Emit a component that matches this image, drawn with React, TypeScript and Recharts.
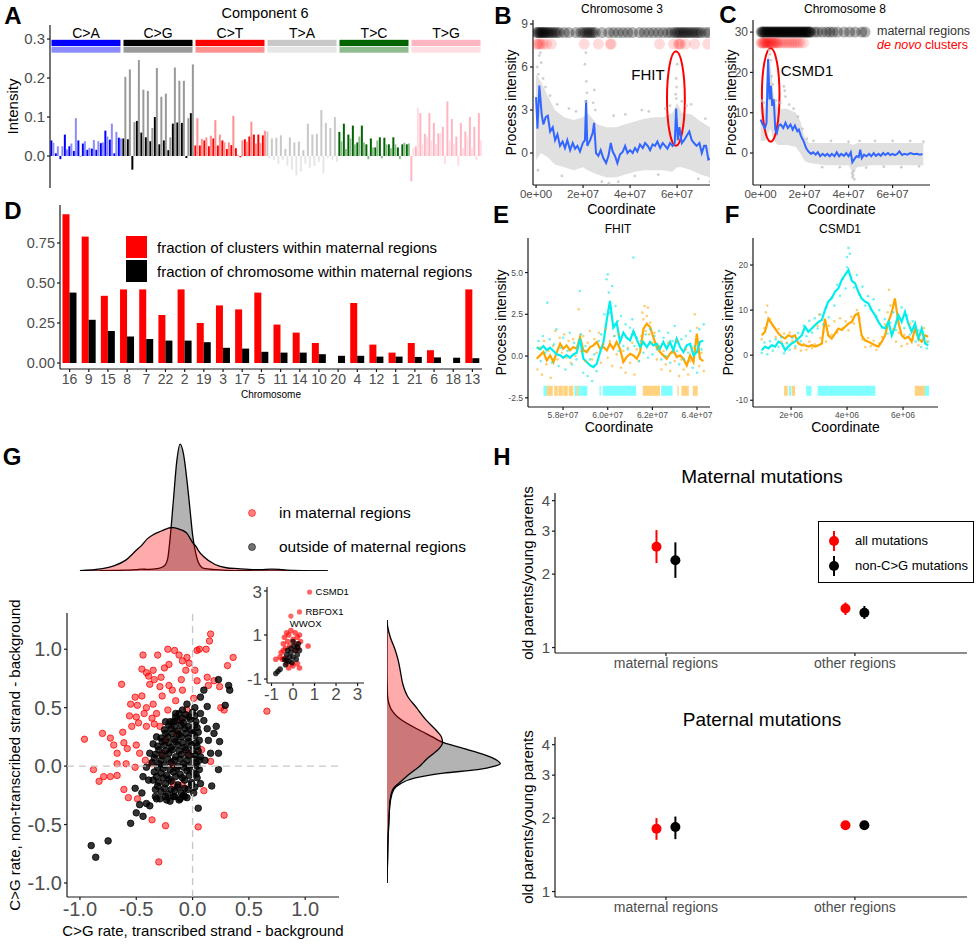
import React from 'react';
import {
  BarChart, Bar, XAxis, YAxis, Cell, ReferenceArea, ComposedChart, Scatter,
  Line, Area, ReferenceLine, ScatterChart, ErrorBar, Legend, Label,
} from 'recharts';

const FONT = '"Liberation Sans", Arial, Helvetica, sans-serif';
const TICK_GREY = '#4d4d4d';
const AXIS = { stroke: '#1a1a1a', strokeWidth: 1.2 };

// ---------- A: component 6 spectrum (two strands per context) ----------
const SUBS = ['C>A', 'C>G', 'C>T', 'T>A', 'T>C', 'T>G'];
const BASES = ['A', 'C', 'G', 'T'];
const DARK_COL = ['#0000ff', '#000000', '#ff0000', '#c8c8c8', '#006400', '#ffb6c1'];
const LIGHT_COL = ['#8c8cff', '#999999', '#ff9090', '#e6e6e6', '#8fbc8f', '#ffdde3'];

const CA_DARK = [0.040, 0.007, -0.008, 0.055, 0.025, 0.013, 0.040, 0.032, 0.016, 0.019, 0.016, 0.033, 0.065, 0.042, 0.007, 0.047];
const CA_LIGHT = [0.034, 0.025, 0.025, 0.017, 0.032, 0.097, -0.002, 0.038, 0.021, 0.041, 0.038, 0.035, 0.050, 0.083, 0.062, 0.045];
const CG_DARK = [0.045, 0.043, -0.035, 0.090, 0.060, 0.048, 0.038, 0.100, 0.030, 0.040, 0.015, 0.083, 0.086, 0.085, -0.005, 0.110];
const CG_LIGHT = [0.203, 0.222, 0.087, 0.246, 0.170, 0.167, 0.072, 0.226, 0.152, 0.160, 0.048, 0.227, 0.193, 0.193, 0.097, 0.235];
const CT_DARK = [0.027, 0.027, 0.040, 0.025, 0.045, 0.027, 0.040, 0.018, 0.028, 0.020, -0.003, 0.043, 0.050, 0.055, 0.055, 0.053];
const CT_LIGHT = [0.097, 0.044, 0.048, 0.052, 0.092, 0.055, 0.035, 0.035, 0.103, 0.003, 0.040, 0.037, 0.088, 0.032, 0.033, 0.065];
const TA_DARK = [0.063, 0.045, 0.047, 0.053, 0.018, 0.048, 0.035, 0.037, 0.015, 0.083, 0.055, 0.057, 0.118, 0.085, 0.072, 0.100];
const TA_LIGHT = [-0.005, -0.010, -0.020, -0.010, -0.025, -0.035, -0.050, -0.040, -0.020, -0.030, -0.025, -0.015, -0.045, -0.005, -0.010, -0.015];
const TC_DARK = [0.062, 0.083, 0.055, 0.078, 0.035, 0.078, 0.030, 0.045, 0.022, 0.048, 0.047, 0.030, 0.048, 0.022, 0.030, 0.030];
const TC_LIGHT = [0.038, 0.018, 0.045, 0.030, 0.050, 0.035, -0.008, 0.022, 0.040, -0.006, 0.030, 0.020, 0.030, -0.008, 0.034, 0.032];
const TG_DARK = [-0.065, 0.025, 0.110, 0.057, 0.110, 0.085, 0.058, 0.075, 0.140, 0.095, 0.050, 0.085, 0.063, 0.100, 0.075, 0.110];
const TG_LIGHT = [0.020, 0.123, 0.030, 0.050, 0.040, 0.030, 0.060, -0.020, 0.040, 0.030, -0.025, 0.020, 0.050, 0.020, -0.010, 0.040];
const A_DARK = [CA_DARK, CG_DARK, CT_DARK, TA_DARK, TC_DARK, TG_DARK];
const A_LIGHT = [CA_LIGHT, CG_LIGHT, CT_LIGHT, TA_LIGHT, TC_LIGHT, TG_LIGHT];

const aData = SUBS.flatMap((s, g) =>
  BASES.flatMap((b5, i) =>
    BASES.map((b3, j) => ({
      ctx: `${b5}[${s}]${b3}`,
      g,
      dark: A_DARK[g][i * 4 + j],
      light: A_LIGHT[g][i * 4 + j],
    })),
  ),
);

// ---------- B: chromosome 3 ----------
const B_LINE_MB = [0, 0.6, 1.4, 2.4, 3.1, 4.1, 5.0, 6.0, 7.1, 8.1, 9.1, 10.2, 11.3, 12.3, 13.3, 14.5, 15.6, 16.6, 17.6, 18.7, 19.9, 20.8, 21.3, 21.8, 23.0, 24.1, 24.7, 25.5, 26.5, 27.5, 28.6, 29.8, 30.8, 31.8, 32.6, 33.6, 34.6, 35.7, 36.9, 37.9, 38.9, 40.0, 41.1, 42.1, 43.1, 44.2, 45.4, 46.4, 47.5, 48.5, 49.6, 50.6, 51.6, 52.8, 53.9, 54.9, 55.9, 57.0, 58.1, 59.0, 59.6, 60.3, 61.0, 62.0, 63.0, 64.1, 65.2, 66.2, 67.2, 68.3, 69.5, 70.5, 71.5, 72.3, 73.3, 74.0];
const B_LINE_VAL = [3.9, 1.7, 4.7, 2.7, 2.0, 2.5, 2.6, 1.5, 1.8, 0.9, 1.3, 0.5, 0.8, 0.35, 0.9, 0.2, 0.7, 0.3, 0.5, 0.1, 0.7, 0.9, 3.7, 0.5, 0.9, 1.4, 2.1, 0.0, -0.2, 0.2, -0.35, -0.7, -0.2, 0.7, 0.1, -0.2, -0.7, -0.1, 0.1, 0.5, 0.0, 0.2, 0.0, 0.35, 0.1, 0.6, 0.35, 0.7, 0.5, 0.2, 0.6, 0.5, 0.8, 0.35, 0.7, 0.5, 0.3, 0.7, 0.5, 0.7, 3.1, 0.9, 1.8, 0.7, 0.9, 1.2, 1.5, 0.9, 0.7, 0.5, 0.7, 0.0, 0.5, 0.5, -0.45, -0.4];
const B_BAND_MB = [0, 2, 5, 8, 12, 16, 20, 22, 26, 30, 34, 38, 42, 46, 50, 54, 58, 60, 62, 66, 70, 74];
const B_BAND_LO = [-0.5, 0.0, -0.3, -0.8, -1.0, -1.2, -1.0, -1.2, -1.5, -1.7, -1.7, -1.5, -1.3, -1.2, -1.2, -1.2, -1.3, -1.0, -1.0, -1.2, -1.5, -1.7];
const B_BAND_HI = [5.5, 5.0, 4.0, 3.0, 2.5, 2.3, 2.5, 2.8, 2.0, 1.8, 1.8, 2.0, 2.2, 2.4, 2.5, 2.5, 2.8, 3.5, 2.8, 2.7, 2.2, 1.8];
const B_GREY_PTS = [[0.5, 6.0], [1.0, 5.5], [1.4, 6.8], [1.8, 7.0], [2.2, 6.3], [0.8, -1.2], [3, 5.2], [4, 4.6], [6, 4.0], [9, 3.4], [11, -1.6], [14, 3.1], [17, 2.9], [20.8, 6.2], [21.2, 7.0], [21.4, 5.0], [21.6, 4.2], [21.0, 3.6], [24.3, 3.5], [24.8, 4.4], [25.2, 3.0], [28, -2.0], [31, -2.1], [33, 2.6], [35, -2.0], [38, 2.7], [42, -1.6], [45, 3.0], [48, 2.9], [52, -1.5], [55, 3.1], [57, 3.3], [59.4, 4.1], [59.6, 5.2], [59.8, 4.6], [60.0, 6.2], [59.7, 3.8], [62, 3.6], [64, 3.3], [66, 3.4], [69, -1.8], [72, 2.4], [74, -2.0]];
const B_MATERNAL_MB = [0.3, 0.8, 1.3, 1.8, 2.3, 2.8, 3.3, 3.8, 4.4, 5.0, 5.7, 6.4, 7.2, 8.0, 8.9, 10.0, 12, 14, 17, 19, 20, 21, 21.8, 22.6, 23.4, 24.2, 25.2, 28, 31, 33, 35, 37, 39, 41, 44, 46, 48, 50, 52, 54, 56, 57.5, 59, 59.8, 60.6, 61.4, 62.2, 63, 63.8, 64.6, 65.5, 66.4, 67.3, 68.2, 69.2, 70.2, 72, 73.5];
const B_MATERNAL_Y = 8.4;
const B_NOVO_MB = [0.2, 0.8, 1.4, 2.0, 3.0, 4.5, 6.5, 20.5, 26.5, 31.5, 32.0, 52.5, 58.5, 60.5, 61.0, 61.5, 63.5, 67.5, 73.0];
const B_NOVO_Y = 7.6;

// ---------- C: chromosome 8 ----------
const C_LINE_MB = [0, 1.0, 2.0, 2.7, 3.4, 4.1, 4.7, 5.3, 6.0, 6.7, 7.4, 8.1, 9.1, 10.3, 11.3, 12.4, 13.6, 14.6, 15.6, 16.7, 17.4, 18.4, 19.6, 20.7, 21.7, 22.9, 23.9, 25.0, 26.0, 27.1, 28.2, 29.3, 30.3, 31.4, 32.4, 33.6, 34.6, 35.7, 36.7, 37.9, 38.9, 40.0, 41.0, 41.7, 42.4, 43.6, 44.6, 45.3, 46.0, 47.0, 48.1, 49.3, 50.3, 51.4, 52.4, 53.6, 54.6, 55.7, 56.7, 57.9, 58.9, 60.0, 61.0, 62.1, 63.1, 64.3, 65.3, 66.7, 68.1, 69.6, 71.0, 72.4, 73.6];
const C_LINE_VAL = [8.3, 7.1, 6.2, 7.5, 23.3, 13.3, 16.7, 11.7, 13.3, 5.8, 5.0, 6.7, 7.1, 6.2, 7.5, 6.2, 7.1, 5.8, 6.8, 5.4, 5.8, 4.2, 2.9, 1.25, 0.4, -0.2, 0.2, -0.4, 0.2, -0.8, -0.2, -0.7, -0.2, -0.8, -0.2, -0.8, 0.2, -0.8, -0.2, -0.7, 0.0, -0.8, 0.2, -2.3, -1.7, -0.8, -1.0, 0.8, -1.25, -0.4, -0.8, -0.2, -0.8, 0.0, -0.7, -0.2, -0.7, 0.0, -0.5, 0.0, -0.5, -0.2, -0.5, -0.2, 0.4, -0.5, -0.2, -0.4, 0.0, -0.3, -0.2, -0.4, -0.25];
const C_BAND_MB = [0, 2, 3.5, 4.5, 6, 8, 12, 16, 18, 20, 22, 30, 40, 42, 44, 50, 60, 74];
const C_BAND_LO = [3, 3, 5, 6, 3, 2, 2, 1.5, 0, -2, -2.5, -3, -3, -5, -3.5, -3, -3, -3];
const C_BAND_HI = [12, 11, 25, 22, 14, 11, 11, 10, 8, 4, 2.5, 2.5, 2.5, 2, 2.5, 2.5, 2.5, 2.5];
const C_GREY_PTS = [[0.5, 13], [1.5, 12.5], [3.5, 26.5], [3.8, 27.5], [4.0, 25.5], [4.3, 24.5], [4.6, 23], [5.0, 19], [5.5, 17], [7, 13], [9, 12.5], [10.6, 16.5], [11.0, 15.5], [11.3, 14], [13, 12], [15, 11], [17, 9], [19, 6], [21, 3.5], [24, 3], [28, -3.5], [32, 3], [36, -3.5], [40, 2.8], [41.6, -5.0], [41.8, -6.0], [42.0, -5.5], [42.3, -4.5], [42.6, -6.5], [45, 3], [48, -3.6], [52, 3], [56, -3.4], [60, 3], [64, -3.5], [68, 3], [72, -3.3], [74, 2.8]];
const C_MATERNAL_MB = [0.3, 0.7, 1.2, 1.6, 2.1, 2.5, 3.0, 3.4, 3.9, 4.3, 4.8, 5.2, 5.7, 6.1, 6.6, 7.0, 7.5, 7.9, 8.4, 8.8, 9.3, 9.7, 10.2, 10.6, 11.1, 11.5, 12.0, 12.4, 12.9, 13.3, 13.8, 14.2, 14.7, 15.1, 15.6, 16.0, 16.5, 16.9, 17.4, 17.8, 18.3, 18.7, 19.2, 19.6, 20.1, 20.5, 21.0, 21.4, 21.9, 22.3, 22.8, 24.5, 26, 28, 30, 31.5, 33, 35, 38, 40.5, 43, 46, 47.5];
const C_MATERNAL_Y = 30.0;
const C_NOVO_MB = [0.2, 0.6, 1.0, 1.4, 1.8, 2.2, 2.6, 3.0, 3.4, 3.8, 4.2, 4.6, 5.0, 5.5, 6.0, 6.5, 7.0, 7.5, 8.0, 9, 10, 11, 12, 13, 14, 15, 16, 17, 18, 19.5];
const C_NOVO_Y = 27.3;

// ---------- D: maternal-region fractions ----------
const D_CHR = ['16', '9', '15', '8', '7', '22', '2', '19', '3', '17', '5', '11', '14', '10', '20', '4', '12', '1', '21', '6', '18', '13'];
const D_CLUSTERS = [0.93, 0.79, 0.42, 0.46, 0.46, 0.30, 0.46, 0.25, 0.36, 0.335, 0.44, 0.24, 0.19, 0.125, 0, 0.375, 0.115, 0.065, 0.125, 0.08, 0, 0.46];
const D_CHROM = [0.44, 0.27, 0.20, 0.165, 0.15, 0.14, 0.14, 0.13, 0.095, 0.09, 0.07, 0.065, 0.065, 0.055, 0.045, 0.045, 0.04, 0.04, 0.038, 0.035, 0.033, 0.03];
const D_KEYS = [
  { key: 'clusters', label: 'fraction of clusters within maternal regions', color: '#ff0000' },
  { key: 'chrom', label: 'fraction of chromosome within maternal regions', color: '#000000' },
];

// ---------- E: FHIT ----------
const E_MB = [56.82, 56.97, 57.12, 57.27, 57.42, 57.57, 57.72, 57.87, 58.01, 58.16, 58.31, 58.46, 58.61, 58.76, 58.91, 59.06, 59.21, 59.36, 59.51, 59.66, 59.81, 59.96, 60.10, 60.25, 60.40, 60.55, 60.70, 60.85, 61.00, 61.15, 61.30, 61.45, 61.60, 61.75, 61.90, 62.04, 62.19, 62.34, 62.49, 62.64, 62.79, 62.94, 63.09, 63.24, 63.39, 63.54, 63.69, 63.84, 63.99, 64.13, 64.28];
const E_CYAN = [0.54, 0.40, 0.60, 0.35, 0.50, 0.30, 0.10, 0.05, -0.10, 0.05, -0.10, 0.10, 0.20, 1.04, -0.16, -0.36, -0.56, -0.66, -0.46, 0.24, 0.84, 2.20, 3.30, 1.70, 2.00, 0.84, 1.40, 1.10, 0.94, 1.50, 1.00, 0.54, 0.84, 0.54, 0.84, 0.64, 0.74, 0.44, 0.84, 0.44, 0.84, 0.34, 1.04, 0.54, 0.24, 0.64, 0.74, 0.04, 0.24, 0.84, 0.94];
const E_ORANGE = [-0.16, 0.04, 0.24, -0.26, 0.04, -0.36, 0.24, 0.74, 0.44, 0.64, 0.34, 0.54, 0.44, 1.14, 0.34, 0.24, 0.54, 0.64, 0.84, 0.44, 0.54, 0.34, 0.74, 0.44, 0.84, 0.44, -0.36, -0.06, 0.14, 0.04, -0.16, 0.24, 1.64, 1.94, 1.74, 1.14, 0.54, 0.24, 0.04, -0.16, 0.14, 0.34, -0.06, 0.04, -0.16, -0.56, 0.04, -0.36, 1.34, -0.16, -0.30];
const E_CYAN_PTS = [[56.9, 0.9], [57.0, -0.3], [57.1, 1.2], [57.2, 0.2], [57.3, 3.2], [57.4, 1.0], [57.5, -0.4], [57.6, 0.7], [57.7, 1.6], [57.8, -0.6], [57.9, 0.5], [58.0, 1.1], [58.1, -0.8], [58.2, 0.3], [58.3, 1.4], [58.4, -0.5], [58.5, 0.8], [58.6, -0.2], [58.75, 3.9], [58.8, 1.3], [58.9, -1.0], [59.0, 0.6], [59.1, -1.2], [59.2, -0.2], [59.3, -1.5], [59.4, 0.1], [59.5, -0.9], [59.6, 0.9], [59.7, 1.3], [59.85, 2.5], [59.95, 4.6], [60.0, 4.9], [60.05, 3.8], [60.1, 2.6], [60.2, 4.2], [60.3, 1.2], [60.35, 3.0], [60.45, 2.1], [60.5, 0.3], [60.6, 2.4], [60.7, 0.6], [60.8, 1.9], [60.9, 0.4], [61.0, 1.7], [61.1, 2.2], [61.15, 5.9], [61.2, 0.6], [61.3, 1.1], [61.4, -0.3], [61.5, 0.9], [61.6, 0.2], [61.7, 1.3], [61.8, -0.1], [61.9, 1.6], [62.0, 0.1], [62.1, 1.2], [62.2, 0.4], [62.3, 1.5], [62.4, -0.2], [62.5, 1.1], [62.6, 0.0], [62.7, 1.4], [62.8, -0.4], [62.9, 0.9], [63.0, 1.8], [63.1, 0.3], [63.2, -0.5], [63.3, 1.0], [63.4, -0.2], [63.5, 1.2], [63.6, 0.2], [63.7, 1.5], [63.8, -0.7], [63.9, 0.6], [64.0, -1.0], [64.1, 1.6], [64.2, 0.4], [64.3, 1.9]];
const E_ORANGE_PTS = [[56.85, -0.8], [56.95, 0.5], [57.05, -1.1], [57.15, 0.9], [57.25, -0.5], [57.35, 0.3], [57.45, -1.3], [57.55, 0.6], [57.65, 1.5], [57.75, -0.2], [57.85, 1.1], [57.95, 0.2], [58.05, 1.3], [58.15, -0.1], [58.25, 0.9], [58.35, -0.4], [58.45, 1.0], [58.55, 0.0], [58.7, 2.8], [58.8, 0.3], [58.9, 1.2], [59.0, -0.3], [59.1, 0.8], [59.2, 1.5], [59.3, -0.2], [59.4, 1.0], [59.5, 0.2], [59.6, 1.4], [59.7, -0.4], [59.8, 0.7], [59.9, 1.6], [60.0, -0.1], [60.1, 0.9], [60.2, -0.6], [60.3, 1.2], [60.4, 0.1], [60.5, 1.3], [60.6, -0.7], [60.7, 0.3], [60.8, -1.0], [60.9, 0.5], [61.0, -0.4], [61.1, 0.8], [61.2, -1.1], [61.3, 0.4], [61.4, -0.3], [61.5, 1.2], [61.55, 2.6], [61.6, 2.2], [61.65, 3.0], [61.7, 1.5], [61.75, 2.4], [61.8, 2.9], [61.85, 1.3], [61.9, 2.0], [62.0, 0.8], [62.1, 1.4], [62.2, -0.2], [62.3, 0.6], [62.4, -0.8], [62.5, 0.3], [62.6, -0.5], [62.7, 0.8], [62.8, -0.9], [62.9, 0.2], [63.0, -0.3], [63.1, 0.9], [63.2, -1.2], [63.3, -0.2], [63.4, -0.8], [63.5, 0.4], [63.6, -1.1], [63.7, -0.3], [63.8, 0.5], [63.9, 2.5], [64.0, 1.7], [64.1, -0.6], [64.2, 0.2], [64.3, -0.9]];
const E_TILE_START = [57.12, 57.27, 57.60, 57.79, 58.01, 58.25, 58.51, 58.61, 58.69, 59.63, 59.78, 61.57, 62.39, 63.12, 63.30, 63.81];
const E_TILE_END = [57.27, 57.54, 57.76, 57.99, 58.21, 58.46, 58.61, 58.69, 59.09, 59.69, 61.27, 62.34, 62.90, 63.18, 63.63, 64.03];
const E_TILE_KIND = ['c', 'o', 'o', 'o', 'o', 'o', 'c', 'o', 'c', 'c', 'c', 'o', 'c', 'o', 'o', 'o'];

// ---------- F: CSMD1 ----------
const F_MB = [0.95, 1.07, 1.19, 1.31, 1.43, 1.55, 1.67, 1.79, 1.90, 2.02, 2.14, 2.26, 2.38, 2.50, 2.62, 2.74, 2.86, 2.98, 3.10, 3.21, 3.33, 3.45, 3.57, 3.69, 3.81, 3.93, 4.05, 4.17, 4.29, 4.40, 4.52, 4.64, 4.76, 4.88, 5.00, 5.12, 5.24, 5.36, 5.48, 5.60, 5.71, 5.83, 5.95, 6.07, 6.19, 6.31, 6.43, 6.55, 6.67, 6.79, 6.90];
const F_CYAN = [1.1, 1.9, 1.5, 2.2, 1.9, 3.0, 2.6, 1.1, 1.9, 2.6, 3.0, 3.7, 4.4, 6.3, 5.2, 5.9, 6.7, 7.4, 7.8, 10.0, 11.9, 12.6, 14.1, 14.8, 16.7, 17.8, 18.9, 16.5, 15.9, 14.1, 12.6, 11.9, 11.5, 10.0, 8.9, 7.4, 6.3, 5.9, 7.4, 4.4, 6.3, 8.9, 7.4, 9.6, 7.0, 5.2, 7.0, 3.7, 5.9, 2.6, 2.2];
const F_ORANGE = [4.4, 5.2, 8.1, 7.0, 5.9, 4.8, 4.1, 3.7, 4.4, 4.1, 4.4, 2.6, 2.2, 2.2, 1.9, 2.2, 1.9, 2.2, 2.6, 8.1, 4.4, 3.7, 4.8, 5.9, 5.6, 6.3, 7.0, 7.4, 8.9, 9.3, 4.4, 3.3, 3.0, 2.6, 2.2, 1.9, 3.0, 4.4, 7.4, 9.6, 12.6, 7.4, 4.4, 3.7, 4.1, 3.0, 5.9, 3.7, 3.0, 4.4, 4.1];
const F_CYAN_PTS = [[0.95, 0.5], [1.05, 2.8], [1.15, 0.2], [1.25, 3.1], [1.35, 1.0], [1.45, 3.5], [1.55, 1.8], [1.65, 4.0], [1.75, 0.4], [1.85, 2.6], [1.95, 1.2], [2.05, 3.8], [2.15, 2.0], [2.25, 4.9], [2.35, 3.1], [2.45, 6.5], [2.55, 4.2], [2.65, 7.6], [2.75, 5.0], [2.85, 8.2], [2.95, 5.9], [3.05, 9.0], [3.15, 6.8], [3.25, 10.5], [3.35, 8.4], [3.45, 12.8], [3.55, 11.0], [3.65, 15.6], [3.75, 13.2], [3.85, 16.9], [3.95, 14.8], [4.0, 21.8], [4.05, 23.8], [4.1, 22.5], [4.0, 19.5], [4.15, 17.2], [4.25, 15.0], [4.35, 17.8], [4.45, 13.4], [4.55, 15.2], [4.65, 11.0], [4.75, 13.1], [4.85, 10.2], [4.95, 12.4], [5.05, 8.6], [5.15, 10.0], [5.25, 6.1], [5.35, 8.0], [5.45, 4.8], [5.55, 7.2], [5.65, 9.5], [5.75, 5.6], [5.85, 8.0], [5.95, 10.6], [6.05, 6.0], [6.15, 8.8], [6.25, 4.6], [6.35, 7.5], [6.45, 3.0], [6.55, 5.5], [6.65, 1.8], [6.75, 3.9], [6.85, 1.5], [6.9, 3.0]];
const F_ORANGE_PTS = [[0.95, 3.5], [1.05, 6.0], [1.1, 9.5], [1.15, 11.0], [1.25, 8.0], [1.35, 6.5], [1.45, 4.0], [1.55, 5.8], [1.65, 3.0], [1.75, 4.8], [1.85, 2.8], [1.95, 5.0], [2.05, 3.2], [2.15, 1.5], [2.25, 2.8], [2.35, 1.0], [2.45, 2.5], [2.55, 1.2], [2.65, 3.0], [2.75, 1.6], [2.85, 2.4], [2.95, 6.5], [3.0, 9.0], [3.05, 3.8], [3.15, 5.2], [3.25, 3.0], [3.35, 6.5], [3.45, 4.5], [3.55, 7.5], [3.65, 5.0], [3.75, 8.2], [3.85, 6.0], [3.95, 7.5], [4.05, 5.5], [4.15, 8.5], [4.25, 7.0], [4.35, 10.0], [4.45, 8.2], [4.55, 3.5], [4.65, 1.8], [4.75, 3.8], [4.85, 2.0], [4.95, 3.2], [5.05, 1.2], [5.15, 2.6], [5.25, 4.0], [5.35, 6.8], [5.45, 9.5], [5.5, 14.5], [5.55, 11.0], [5.65, 5.8], [5.75, 3.0], [5.85, 5.0], [5.95, 2.0], [6.05, 4.5], [6.15, 2.5], [6.25, 7.0], [6.35, 3.5], [6.45, 5.2], [6.55, 2.2], [6.65, 4.6], [6.75, 6.0], [6.85, 3.0]];
const F_TILE_START = [1.75, 1.92, 2.02, 2.54, 2.95, 6.42, 6.78];
const F_TILE_END = [1.88, 2.00, 2.14, 2.73, 5.01, 6.78, 6.93];
const F_TILE_KIND = ['o', 'c', 'o', 'c', 'c', 'o', 'c'];

// ---------- G: strand asymmetry ----------
const G_RED = [[0.16, 1.13], [0.15, 1.07], [-0.22, 1.0], [-0.16, 0.99], [-0.44, 0.95], [-0.31, 0.95], [0.04, 0.99], [0.06, 1.0], [0.12, 1.0], [0.36, 0.93], [0.31, 0.86], [-0.09, 0.9], [-0.03, 0.88], [-0.45, 0.83], [-0.41, 0.8], [-0.35, 0.82], [-0.25, 0.84], [-0.21, 0.87], [0.02, 0.82], [-0.63, 0.7], [-0.39, 0.77], [-0.34, 0.74], [-0.28, 0.76], [-0.21, 0.69], [-0.1, 0.74], [0.13, 0.76], [0.19, 0.73], [0.24, 0.68], [0.14, 0.69], [-0.55, 0.53], [-0.49, 0.52], [-0.41, 0.5], [-0.35, 0.53], [-0.56, 0.43], [-0.5, 0.42], [-0.43, 0.45], [-0.36, 0.41], [-0.48, 0.37], [-0.41, 0.34], [-0.34, 0.36], [-0.8, 0.28], [-0.73, 0.24], [-0.7, 0.18], [-0.96, 0.23], [-0.61, 0.2], [-0.58, 0.15], [-0.5, 0.18], [-0.47, 0.11], [-0.42, 0.05], [-0.67, 0.02], [-0.59, 0.02], [-0.51, -0.01], [-0.88, -0.03], [-0.79, -0.09], [-0.83, -0.13], [-0.73, -0.09], [-0.67, -0.08], [-0.61, -0.2], [-0.57, -0.27], [-0.49, -0.28], [-0.36, -0.46], [-0.24, -0.51], [-0.3, -0.82], [0.05, -0.52], [0.28, -0.42], [0.1, -0.21], [0.66, 0.47], [-0.27, 0.6], [-0.18, 0.65], [-0.15, 0.56], [-0.22, 0.48], [-0.11, 0.39], [-0.05, 0.48], [0.01, 0.58], [0.04, 0.73], [-0.09, 0.65], [-0.32, 0.45], [-0.29, 0.34], [-0.24, 0.22], [-0.17, -0.15], [-0.09, -0.16], [-0.36, 0.02], [-0.14, 0.28], [0.08, 0.14], [0.16, 0.04], [-0.27, 0.11], [-0.04, 0.11], [-0.18, 0.01], [-0.51, 0.59], [-0.45, 0.6], [-0.54, 0.34], [-0.62, 0.29], [-0.67, 0.11], [-0.38, 0.7], [-0.29, 0.68], [-0.06, 0.82], [-0.12, 0.95], [0.25, 0.5], [0.28, 0.48], [-0.05, 0.93]];
const G_BLACK = [[-0.9, -0.68], [-0.86, -0.78], [-0.75, -0.64], [-0.55, -0.49], [-0.5, -0.4], [-0.44, -0.43], [-0.41, -0.32], [-0.47, -0.33], [-0.51, -0.19], [-0.45, -0.23], [0.05, -0.36], [0.17, -0.17], [0.23, -0.03], [0.23, 0.11], [0.24, 0.21], [0.21, 0.34], [0.32, 0.69], [0.33, 0.65], [0.23, 0.74], [0.29, 0.52], [0.1, 0.65], [0.07, 0.59], [0.13, 0.51], [0.14, 0.22], [0.16, 0.11], [0.11, 0.05], [0.19, 0.28], [-0.11, -0.28], [-0.17, -0.26], [-0.23, -0.29], [-0.32, -0.28], [-0.38, -0.34], [-0.07, -0.26], [0.01, -0.23], [0.07, -0.15], [-0.44, -0.09], [-0.39, -0.12], [-0.41, -0.01], [-0.38, 0.11], [-0.35, 0.19], [-0.32, 0.25], [-0.24, 0.38], [-0.15, 0.45], [-0.09, 0.48], [-0.05, 0.53], [0.02, 0.5], [0.07, 0.45], [0.1, 0.39], [0.13, 0.32], [-0.17, 0.38],
  [-0.33, -0.2], [-0.28, -0.22], [-0.22, -0.24], [-0.16, -0.21], [-0.1, -0.23], [-0.04, -0.2], [0.02, -0.18], [-0.35, -0.12], [-0.3, -0.14], [-0.24, -0.15], [-0.19, -0.13], [-0.13, -0.16], [-0.07, -0.12], [-0.01, -0.14], [0.04, -0.1], [-0.34, -0.05], [-0.28, -0.06], [-0.23, -0.08], [-0.17, -0.05], [-0.11, -0.07], [-0.05, -0.04], [0.01, -0.06], [0.06, -0.03], [-0.36, 0.03], [-0.3, 0.02], [-0.25, 0.01], [-0.19, 0.03], [-0.13, 0.0], [-0.08, 0.02], [-0.02, 0.01], [0.03, 0.03], [-0.33, 0.1], [-0.27, 0.09], [-0.21, 0.11], [-0.15, 0.08], [-0.1, 0.1], [-0.04, 0.09], [0.02, 0.1], [0.07, 0.08], [-0.31, 0.17], [-0.25, 0.18], [-0.19, 0.16], [-0.13, 0.18], [-0.07, 0.16], [-0.01, 0.18], [0.04, 0.17], [-0.28, 0.24], [-0.22, 0.25], [-0.16, 0.23], [-0.1, 0.25], [-0.04, 0.24], [0.02, 0.26], [0.06, 0.22], [-0.25, 0.31], [-0.19, 0.32], [-0.13, 0.3], [-0.07, 0.32], [-0.01, 0.31], [0.04, 0.33], [-0.2, 0.38], [-0.14, 0.39], [-0.08, 0.37], [-0.02, 0.4], [0.03, 0.38], [-0.12, 0.45], [-0.06, 0.44], [0.0, 0.46], [-0.29, -0.28], [-0.2, -0.3], [-0.12, -0.29], [-0.05, -0.27],
  [-0.31, -0.17], [-0.25, -0.19], [-0.19, -0.2], [-0.13, -0.18], [-0.07, -0.19], [-0.01, -0.16], [-0.32, -0.09], [-0.26, -0.1], [-0.21, -0.11], [-0.15, -0.09], [-0.09, -0.1], [-0.03, -0.08], [0.03, -0.07], [-0.31, -0.01], [-0.26, -0.02], [-0.2, -0.03], [-0.14, -0.02], [-0.08, -0.01], [-0.03, -0.02], [0.04, 0.0], [-0.34, 0.07], [-0.28, 0.05], [-0.22, 0.06], [-0.16, 0.05], [-0.11, 0.06], [-0.05, 0.05], [0.01, 0.06], [0.06, 0.05], [-0.3, 0.14], [-0.24, 0.13], [-0.18, 0.14], [-0.12, 0.13], [-0.06, 0.14], [0.0, 0.13], [0.05, 0.13], [-0.27, 0.21], [-0.21, 0.2], [-0.15, 0.21], [-0.09, 0.2], [-0.03, 0.21], [0.03, 0.2], [-0.24, 0.28], [-0.18, 0.28], [-0.12, 0.27], [-0.06, 0.28], [0.0, 0.28], [0.05, 0.29], [-0.21, 0.35], [-0.16, 0.34], [-0.1, 0.35], [-0.04, 0.34], [0.02, 0.35], [-0.15, 0.42], [-0.09, 0.41], [-0.03, 0.42], [0.02, 0.43], [-0.24, -0.26], [-0.16, -0.26], [-0.08, -0.25], [-0.33, -0.26]];
const G_INSET_RED = [[-0.55, 0.2], [-0.45, 0.6], [-0.4, 0.9], [-0.3, 1.1], [-0.2, 1.0], [-0.1, 1.2], [0.1, 1.1], [0.2, 0.9], [0.3, 1.0], [-0.35, 0.4], [-0.25, 0.7], [-0.15, 0.5], [0.0, 0.8], [0.15, 0.6], [-0.5, -0.1], [-0.3, -0.3], [-0.2, -0.5], [0.0, -0.4], [0.2, -0.3], [0.3, -0.5], [0.7, 0.5], [-0.6, 0.0], [-0.45, 0.3], [0.25, 0.4], [0.1, 0.3], [-0.8, -0.1], [0.35, 0.7], [-0.05, -0.3], [-0.35, -0.05]];
const G_INSET_BLACK = [[-0.4, -0.1], [-0.3, 0.1], [-0.2, -0.2], [-0.1, 0.2], [0.0, 0.0], [0.1, 0.3], [0.2, 0.1], [-0.25, 0.3], [-0.15, 0.0], [0.05, 0.5], [0.15, -0.1], [0.25, 0.6], [-0.05, -0.25], [-0.35, -0.35], [0.3, 0.3], [-0.7, -0.65], [-0.8, -0.75], [-0.6, -0.55], [0.0, 0.7], [-0.1, 0.4], [0.2, 0.45], [-0.3, -0.15]];
const G_INSET_GENES = ['CSMD1', 'RBFOX1', 'WWOX'];
const G_INSET_GENE_X = [0.77, 0.3, -0.1];
const G_INSET_GENE_Y = [2.95, 2.05, 1.86];
const GENE_LABEL_OFFSET = { CSMD1: [6, 3], RBFOX1: [6, 3], WWOX: [-1, 11] };

const G_TOP_X = [-1.0, -0.9, -0.8, -0.7, -0.6, -0.5, -0.45, -0.4, -0.35, -0.3, -0.25, -0.22, -0.2, -0.17, -0.14, -0.11, -0.08, -0.05, -0.02, 0.0, 0.03, 0.05, 0.1, 0.2, 0.3, 0.4, 0.5, 0.6, 0.7, 0.8, 0.9, 1.0, 1.1, 1.2];
const G_TOP_GREY = [0, 0, 0.002, 0.004, 0.006, 0.01, 0.015, 0.012, 0.015, 0.02, 0.04, 0.1, 0.25, 0.55, 0.85, 0.98, 0.9, 0.7, 0.45, 0.28, 0.13, 0.07, 0.02, 0.01, 0.005, 0.003, 0.002, 0, 0, 0, 0, 0, 0, 0];
const G_TOP_RED = [0.003, 0.008, 0.018, 0.04, 0.08, 0.16, 0.2, 0.25, 0.28, 0.3, 0.32, 0.33, 0.334, 0.335, 0.33, 0.32, 0.31, 0.29, 0.25, 0.22, 0.19, 0.16, 0.11, 0.05, 0.025, 0.018, 0.012, 0.01, 0.015, 0.01, 0.004, 0.002, 0.001, 0];
const G_SIDE_Y = [-1.0, -0.8, -0.6, -0.5, -0.4, -0.3, -0.2, -0.15, -0.1, -0.06, -0.03, 0.0, 0.02, 0.05, 0.1, 0.15, 0.2, 0.25, 0.3, 0.4, 0.5, 0.6, 0.7, 0.8, 0.9, 1.0, 1.1, 1.2, 1.25];
const G_SIDE_GREY = [0, 0.005, 0.01, 0.015, 0.02, 0.03, 0.06, 0.12, 0.25, 0.5, 0.8, 0.95, 1.0, 0.97, 0.85, 0.68, 0.5, 0.4, 0.3, 0.12, 0.03, 0.005, 0.002, 0, 0, 0, 0, 0, 0];
const G_SIDE_RED = [0, 0.005, 0.01, 0.015, 0.02, 0.025, 0.05, 0.1, 0.16, 0.21, 0.25, 0.29, 0.31, 0.34, 0.4, 0.46, 0.49, 0.48, 0.44, 0.34, 0.26, 0.18, 0.14, 0.12, 0.1, 0.07, 0.03, 0.005, 0];

// ---------- H: old / young parents ----------
const H_REGIONS = ['maternal regions', 'other regions'];
const MAT_ALL = [2.59, 1.445];
const MAT_ALL_LO = [2.22, 1.36];
const MAT_ALL_HI = [3.03, 1.53];
const MAT_NONCG = [2.28, 1.39];
const MAT_NONCG_LO = [1.93, 1.31];
const MAT_NONCG_HI = [2.70, 1.48];
const PAT_ALL = [1.81, 1.87];
const PAT_ALL_LO = [1.63, 1.84];
const PAT_ALL_HI = [2.0, 1.9];
const PAT_NONCG = [1.84, 1.87];
const PAT_NONCG_LO = [1.64, 1.84];
const PAT_NONCG_HI = [2.03, 1.9];
const H_SERIES = [
  { name: 'all mutations', color: '#ff0000' },
  { name: 'non-C>G mutations', color: '#000000' },
];
const DODGE = 0.05;

// ---------- helpers ----------
const pts = (arr) => arr.map(([x, y]) => ({ x, y }));
const zip = (xs, ys) => xs.map((x, i) => ({ x, y: ys[i] }));
const dot = (fill, r, op, stroke = false) => (p) =>
  <circle cx={p.cx} cy={p.cy} r={r} fill={fill} fillOpacity={op} stroke={stroke ? fill : 'none'} strokeOpacity={0.85} strokeWidth={0.9} />;
const ellipseShape = (p) =>
  <ellipse cx={p.x + p.width / 2} cy={p.y + p.height / 2} rx={p.width / 2} ry={p.height / 2} fill="none" stroke="#ff0000" strokeWidth={2} />;
const stripShape = (fill) => (p) =>
  <rect x={p.x + 1.5} y={p.y} width={Math.max(0, p.width - 3)} height={p.height} fill={fill} />;
const sciMb7 = (v) => (v === 0 ? '0e+00' : `${v / 10}e+07`);
const hData = (vals, lo, hi, shift) =>
  vals.map((v, i) => ({ x: i + 1 + shift, y: v, err: [v - lo[i], hi[i] - v] }));

function T({ x, y, size, children, color = '#000', bold = false, italic = false, anchor = 'middle' }) {
  const tx = anchor === 'middle' ? '-50%' : anchor === 'end' ? '-100%' : '0';
  return (
    <div style={{ position: 'absolute', left: x, top: y, transform: `translate(${tx}, -50%)`, fontSize: size, lineHeight: 1, color, fontWeight: bold ? 700 : 400, fontStyle: italic ? 'italic' : 'normal', whiteSpace: 'nowrap' }}>
      {children}
    </div>
  );
}

function Box({ left, top, children }) {
  return <div style={{ position: 'absolute', left, top }}>{children}</div>;
}

const yTitle = (value, offset, size = 14) => (
  <Label value={value} angle={-90} position="insideLeft" offset={offset} style={{ textAnchor: 'middle' }} fontSize={size} fill="#000" />
);

function ChromPanel({ line, band, grey, mat, matY, novo, novoY, xDomain, yDomain, yTicks, ellipse }) {
  return (
    <ComposedChart width={235} height={205} margin={{ top: 6, right: 5, bottom: 0, left: 0 }}>
      <XAxis type="number" dataKey="x" domain={xDomain} ticks={[0, 20, 40, 60]} tickFormatter={sciMb7} allowDataOverflow height={34}
        axisLine={AXIS} tickLine={AXIS} tickSize={3} tick={{ fill: TICK_GREY, fontSize: 11.5 }}>
        <Label value="Coordinate" position="insideBottom" offset={5} fontSize={14} fill="#000" />
      </XAxis>
      <YAxis type="number" dataKey="y" domain={yDomain} ticks={yTicks} allowDataOverflow width={53}
        axisLine={AXIS} tickLine={AXIS} tickSize={3} tick={{ fill: TICK_GREY, fontSize: 12 }}>
        {yTitle('Process intensity', 31)}
      </YAxis>
      <Area data={band} dataKey={(d) => [d.lo, d.hi]} type="linear" stroke="none" fill="#d6d6d6" fillOpacity={0.75} isAnimationActive={false} />
      <Scatter data={grey} shape={dot('#c4c4c4', 1.4, 0.8)} isAnimationActive={false} />
      <Line data={line} dataKey="y" type="linear" stroke="#3366ff" strokeWidth={2} dot={false} isAnimationActive={false} />
      <Scatter data={mat.map((x) => ({ x, y: matY }))} shape={dot('#000000', 5.5, 0.3)} isAnimationActive={false} />
      <Scatter data={novo.map((x) => ({ x, y: novoY }))} shape={dot('#ff0000', 5.5, 0.14)} isAnimationActive={false} />
      <ReferenceArea x1={ellipse[0]} x2={ellipse[1]} y1={ellipse[2]} y2={ellipse[3]} shape={ellipseShape} />
    </ComposedChart>
  );
}

function GenePanel({ mb, cyan, orange, cyanPts, orangePts, tiles, xDomain, xTicks, xFmt, yDomain, yTicks, yFmt, tileY, yWidth, rightM, titleOffset }) {
  return (
    <ComposedChart width={yWidth + 182 + rightM + (yWidth === 53 ? 3 : 0)} height={222} margin={{ top: 20, right: rightM, bottom: 0, left: 0 }}>
      <XAxis type="number" dataKey="x" domain={xDomain} ticks={xTicks} tickFormatter={xFmt} allowDataOverflow height={33}
        axisLine={AXIS} tickLine={AXIS} tickSize={3} tick={{ fill: TICK_GREY, fontSize: 8.5 }}>
        <Label value="Coordinate" position="insideBottom" offset={8} fontSize={14} fill="#000" />
      </XAxis>
      <YAxis type="number" dataKey="y" domain={yDomain} ticks={yTicks} tickFormatter={yFmt} allowDataOverflow width={yWidth}
        axisLine={AXIS} tickLine={AXIS} tickSize={3} tick={{ fill: TICK_GREY, fontSize: 8.5 }}>
        {yTitle('Process intensity', titleOffset)}
      </YAxis>
      {tiles.start.map((s, i) => (
        <ReferenceArea key={i} x1={s} x2={tiles.end[i]} y1={tileY[0]} y2={tileY[1]}
          fill={tiles.kind[i] === 'c' ? '#00ffff' : '#ffa500'} fillOpacity={0.5} stroke="none" />
      ))}
      <Scatter data={pts(orangePts)} shape={dot('#ffa500', 1.3, 0.55)} isAnimationActive={false} />
      <Scatter data={pts(cyanPts)} shape={dot('#00e5e5', 1.3, 0.55)} isAnimationActive={false} />
      <Line data={zip(mb, orange)} dataKey="y" type="linear" stroke="#ffa500" strokeWidth={2.2} dot={false} isAnimationActive={false} />
      <Line data={zip(mb, cyan)} dataKey="y" type="linear" stroke="#00eeee" strokeWidth={2.2} dot={false} isAnimationActive={false} />
    </ComposedChart>
  );
}

function HPanel({ all, allLo, allHi, non, nonLo, nonHi, legend }) {
  return (
    <ScatterChart width={505} height={195} margin={{ top: 8, right: 8, bottom: 0, left: 0 }}>
      <XAxis type="number" dataKey="x" domain={[0.413, 2.593]} ticks={[1, 2]} tickFormatter={(v) => H_REGIONS[v - 1]} allowDataOverflow height={27}
        axisLine={AXIS} tickLine={AXIS} tickSize={3} tick={{ fill: TICK_GREY, fontSize: 14 }} />
      <YAxis type="number" dataKey="y" scale="log" domain={[0.95, 4.3]} ticks={[1, 2, 3, 4]} allowDataOverflow width={85}
        axisLine={AXIS} tickLine={AXIS} tickSize={3} tick={{ fill: TICK_GREY, fontSize: 15 }}>
        {yTitle('old parents/young parents', 58, 15)}
      </YAxis>
      <Scatter data={hData(all, allLo, allHi, -DODGE)} shape={dot('#ff0000', 5, 1)} isAnimationActive={false}>
        <ErrorBar dataKey="err" direction="y" width={0} stroke="#ff0000" strokeWidth={2} />
      </Scatter>
      <Scatter data={hData(non, nonLo, nonHi, DODGE)} shape={dot('#000000', 5, 1)} isAnimationActive={false}>
        <ErrorBar dataKey="err" direction="y" width={0} stroke="#000000" strokeWidth={2} />
      </Scatter>
      {legend && (
        <Legend layout="vertical" align="center" verticalAlign="middle" wrapperStyle={{ left: 348, top: 36, width: 160 }}
          content={() => (
            <div style={{ border: '1.5px solid #000', width: 156, height: 62, boxSizing: 'border-box', padding: '6px 0 0 7px', background: '#fff' }}>
              {H_SERIES.map((s) => (
                <div key={s.name} style={{ display: 'flex', alignItems: 'center', height: 25 }}>
                  <svg width={16} height={22}>
                    <line x1={8} x2={8} y1={1} y2={21} stroke={s.color} strokeWidth={2} />
                    <circle cx={8} cy={11} r={5} fill={s.color} />
                  </svg>
                  <span style={{ marginLeft: 13, fontSize: 13, color: '#000' }}>{s.name}</span>
                </div>
              ))}
            </div>
          )} />
      )}
    </ScatterChart>
  );
}

export default function App() {
  const dData = D_CHR.map((chr, i) => ({ chr, clusters: D_CLUSTERS[i], chrom: D_CHROM[i] }));
  const gTop = G_TOP_X.map((x, i) => ({ x, grey: G_TOP_GREY[i], red: G_TOP_RED[i] }));
  const gSide = G_SIDE_Y.map((y, i) => ({ y, grey: G_SIDE_GREY[i], red: G_SIDE_RED[i] }));
  const genes = G_INSET_GENES.map((name, i) => ({ name, x: G_INSET_GENE_X[i], y: G_INSET_GENE_Y[i] }));

  return (
    <div style={{ position: 'absolute', left: 0, top: 0, width: 980, height: 946, background: '#fff', overflow: 'hidden', fontFamily: FONT, color: '#000' }}>
      {/* ---------- A ---------- */}
      <Box left={0} top={20}>
        <BarChart width={490} height={175} data={aData} margin={{ top: 5, right: 8, bottom: 7, left: 0 }} barCategoryGap="8%" barGap={0}>
          <XAxis dataKey="ctx" hide />
          <YAxis domain={[-0.082, 0.336]} ticks={[0, 0.1, 0.2, 0.3]} tickFormatter={(v) => v.toFixed(1)} allowDataOverflow width={50}
            axisLine={AXIS} tickLine={AXIS} tickSize={3} tick={{ fill: TICK_GREY, fontSize: 15 }}>
            {yTitle('Intensity', 13, 15)}
          </YAxis>
          {SUBS.map((s, g) => (
            <ReferenceArea key={`d${g}`} x1={aData[g * 16].ctx} x2={aData[g * 16 + 15].ctx} y1={0.282} y2={0.298}
              shape={stripShape(DARK_COL[g])} label={{ value: s, position: 'top', offset: 2, fontSize: 14, fill: '#000' }} />
          ))}
          {SUBS.map((s, g) => (
            <ReferenceArea key={`l${g}`} x1={aData[g * 16].ctx} x2={aData[g * 16 + 15].ctx} y1={0.265} y2={0.28}
              shape={stripShape(LIGHT_COL[g])} />
          ))}
          <Bar dataKey="dark" isAnimationActive={false}>
            {aData.map((d, i) => <Cell key={i} fill={DARK_COL[d.g]} />)}
          </Bar>
          <Bar dataKey="light" isAnimationActive={false}>
            {aData.map((d, i) => <Cell key={i} fill={LIGHT_COL[d.g]} />)}
          </Bar>
        </BarChart>
      </Box>

      {/* ---------- B ---------- */}
      <Box left={480} top={14}>
        <ChromPanel
          line={zip(B_LINE_MB, B_LINE_VAL)}
          band={B_BAND_MB.map((x, i) => ({ x, lo: B_BAND_LO[i], hi: B_BAND_HI[i] }))}
          grey={pts(B_GREY_PTS)} mat={B_MATERNAL_MB} matY={B_MATERNAL_Y} novo={B_NOVO_MB} novoY={B_NOVO_Y}
          xDomain={[-1.3, 74.0]} yDomain={[-2.23, 9.28]} yTicks={[0, 3, 6, 9]} ellipse={[55.7, 63.3, 0.5, 7.1]} />
      </Box>

      {/* ---------- C ---------- */}
      <Box left={700} top={14}>
        <ChromPanel
          line={zip(C_LINE_MB, C_LINE_VAL)}
          band={C_BAND_MB.map((x, i) => ({ x, lo: C_BAND_LO[i], hi: C_BAND_HI[i] }))}
          grey={pts(C_GREY_PTS)} mat={C_MATERNAL_MB} matY={C_MATERNAL_Y} novo={C_NOVO_MB} novoY={C_NOVO_Y}
          xDomain={[-3.44, 77.0]} yDomain={[-7.93, 33.0]} yTicks={[0, 10, 20, 30]} ellipse={[0.6, 8.6, 2.8, 26]} />
      </Box>

      {/* ---------- D ---------- */}
      <Box left={0} top={200}>
        <BarChart width={485} height={200} data={dData} margin={{ top: 5, right: 3, bottom: 0, left: 0 }} barCategoryGap="13%" barGap={0}>
          <XAxis dataKey="chr" interval={0} height={31} axisLine={AXIS} tickLine={AXIS} tickSize={3} tick={{ fill: TICK_GREY, fontSize: 14 }}>
            <Label value="Chromosome" position="insideBottom" offset={2} fontSize={10} fill="#000" />
          </XAxis>
          <YAxis domain={[-0.0375, 0.9875]} ticks={[0, 0.25, 0.5, 0.75]} tickFormatter={(v) => v.toFixed(2)} allowDataOverflow width={60}
            axisLine={AXIS} tickLine={AXIS} tickSize={3} tick={{ fill: TICK_GREY, fontSize: 14.5 }} />
          <Bar dataKey="clusters" fill="#ff0000" isAnimationActive={false} />
          <Bar dataKey="chrom" fill="#000000" isAnimationActive={false} />
          <Legend layout="vertical" align="center" verticalAlign="middle" wrapperStyle={{ left: 126, top: 35, width: 356 }}
            content={() => (
              <div>
                {D_KEYS.map((k) => (
                  <div key={k.key} style={{ display: 'flex', alignItems: 'center', height: 24, whiteSpace: 'nowrap' }}>
                    <div style={{ width: 21, height: 22, background: k.color, marginRight: 10, flex: 'none' }} />
                    <span style={{ fontSize: 15, color: '#000' }}>{k.label}</span>
                  </div>
                ))}
              </div>
            )} />
        </BarChart>
      </Box>

      {/* ---------- E ---------- */}
      <Box left={480} top={218}>
        <GenePanel mb={E_MB} cyan={E_CYAN} orange={E_ORANGE} cyanPts={E_CYAN_PTS} orangePts={E_ORANGE_PTS}
          tiles={{ start: E_TILE_START, end: E_TILE_END, kind: E_TILE_KIND }}
          xDomain={[56.43, 64.58]} xTicks={[58, 60, 62, 64]} xFmt={(v) => `${(v / 10).toFixed(1)}e+07`}
          yDomain={[-3.05, 7.07]} yTicks={[-2.5, 0, 2.5, 5]} yFmt={(v) => v.toFixed(1)} tileY={[-2.38, -1.78]}
          yWidth={48} rightM={5} titleOffset={21} />
      </Box>

      {/* ---------- F ---------- */}
      <Box left={700} top={218}>
        <GenePanel mb={F_MB} cyan={F_CYAN} orange={F_ORANGE} cyanPts={F_CYAN_PTS} orangePts={F_ORANGE_PTS}
          tiles={{ start: F_TILE_START, end: F_TILE_END, kind: F_TILE_KIND }}
          xDomain={[0.64, 7.25]} xTicks={[2, 4, 6]} xFmt={(v) => `${v}e+06`}
          yDomain={[-11.5, 26]} yTicks={[-10, 0, 10, 20]} yFmt={(v) => `${v}`} tileY={[-9.0, -6.8]}
          yWidth={53} rightM={7} titleOffset={28} />
      </Box>

      {/* ---------- G ---------- */}
      <Box left={67} top={435}>
        <ComposedChart width={272} height={136} data={gTop} margin={{ top: 0, right: 0, bottom: 0, left: 0 }}>
          <XAxis type="number" dataKey="x" domain={[-1.115, 1.3]} hide allowDataOverflow />
          <YAxis type="number" domain={[0, 1.05]} hide allowDataOverflow />
          <Area dataKey="grey" type="monotone" fill="#808080" fillOpacity={0.6} stroke="#000" strokeWidth={1.3} isAnimationActive={false} />
          <Area dataKey="red" type="monotone" fill="#ff0000" fillOpacity={0.33} stroke="#000" strokeWidth={1.3} isAnimationActive={false} />
          <Legend layout="vertical" align="center" verticalAlign="middle" wrapperStyle={{ left: 181, top: 61, width: 240 }}
            content={() => (
              <div>
                {[{ n: 'in maternal regions', c: '#ff0000', o: 0.5 }, { n: 'outside of maternal regions', c: '#000000', o: 0.55 }].map((k) => (
                  <div key={k.n} style={{ display: 'flex', alignItems: 'center', height: 34, whiteSpace: 'nowrap' }}>
                    <svg width={8} height={8}><circle cx={4} cy={4} r={3.5} fill={k.c} fillOpacity={k.o} stroke={k.c} strokeOpacity={0.7} strokeWidth={0.8} /></svg>
                    <span style={{ marginLeft: 23, fontSize: 15.5, color: '#000' }}>{k.n}</span>
                  </div>
                ))}
              </div>
            )} />
        </ComposedChart>
      </Box>

      <Box left={0} top={600}>
        <ScatterChart width={345} height={346} margin={{ top: 13, right: 6, bottom: 0, left: 0 }}>
          <XAxis type="number" dataKey="x" domain={[-1.115, 1.3]} ticks={[-1, -0.5, 0, 0.5, 1]} tickFormatter={(v) => v.toFixed(1)} allowDataOverflow height={49}
            axisLine={AXIS} tickLine={AXIS} tickSize={3} tick={{ fill: TICK_GREY, fontSize: 20 }}>
            <Label value="C>G rate, transcribed strand - background" position="insideBottom" offset={10} fontSize={15} fill="#000" />
          </XAxis>
          <YAxis type="number" dataKey="y" domain={[-1.12, 1.31]} ticks={[-1, -0.5, 0, 0.5, 1]} tickFormatter={(v) => v.toFixed(1)} allowDataOverflow width={67}
            axisLine={AXIS} tickLine={AXIS} tickSize={3} tick={{ fill: TICK_GREY, fontSize: 20 }}>
            {yTitle('C>G rate, non-transcribed strand - background', 15, 15)}
          </YAxis>
          <Scatter data={pts(G_RED)} shape={dot('#ff0000', 3.2, 0.5, true)} isAnimationActive={false} />
          <Scatter data={pts(G_BLACK)} shape={dot('#000000', 3.3, 0.8, true)} isAnimationActive={false} />
        </ScatterChart>
      </Box>
      {/* dashed zero lines, layered above the point clouds */}
      <Box left={0} top={600}>
        <ScatterChart width={345} height={346} margin={{ top: 13, right: 6, bottom: 49, left: 67 }}>
          <XAxis type="number" dataKey="x" domain={[-1.115, 1.3]} hide allowDataOverflow />
          <YAxis type="number" dataKey="y" domain={[-1.12, 1.31]} hide allowDataOverflow />
          <ReferenceLine x={0} stroke="#c8c8c8" strokeWidth={1.4} strokeDasharray="7 5" />
          <ReferenceLine y={0} stroke="#c8c8c8" strokeWidth={1.4} strokeDasharray="7 5" />
        </ScatterChart>
      </Box>

      <Box left={240} top={582}>
        <ScatterChart width={128} height={130} margin={{ top: 5, right: 4, bottom: 0, left: 0 }}>
          <XAxis type="number" dataKey="x" domain={[-1.21, 3.3]} ticks={[-1, 0, 1, 2, 3]} allowDataOverflow height={29}
            axisLine={AXIS} tickLine={AXIS} tickSize={3} tick={{ fill: TICK_GREY, fontSize: 17 }} />
          <YAxis type="number" dataKey="y" domain={[-1.18, 3.18]} ticks={[-1, 0, 1, 2, 3]} allowDataOverflow width={27}
            axisLine={AXIS} tickLine={AXIS} tickSize={3} tick={{ fill: TICK_GREY, fontSize: 17 }} />
          <Scatter data={pts(G_INSET_RED)} shape={dot('#ff0000', 2.8, 0.65)} isAnimationActive={false} />
          <Scatter data={pts(G_INSET_BLACK)} shape={dot('#000000', 2.8, 0.75)} isAnimationActive={false} />
          <Scatter data={genes} isAnimationActive={false}
            shape={(p) => {
              const [dx, dy] = GENE_LABEL_OFFSET[p.payload.name];
              return (
                <g>
                  <circle cx={p.cx} cy={p.cy} r={2.6} fill="#ff0000" fillOpacity={0.6} />
                  <text x={p.cx + dx} y={p.cy + dy} fontSize={9.5} fill="#000">{p.payload.name}</text>
                </g>
              );
            }} />
        </ScatterChart>
      </Box>

      <Box left={387} top={613}>
        <ComposedChart layout="vertical" width={119} height={284} data={gSide} margin={{ top: 0, right: 0, bottom: 0, left: 0 }}>
          <XAxis type="number" domain={[0, 1.05]} hide allowDataOverflow />
          <YAxis type="number" dataKey="y" domain={[-1.12, 1.31]} reversed hide allowDataOverflow />
          <Area dataKey="grey" type="monotone" fill="#808080" fillOpacity={0.6} stroke="#000" strokeWidth={1.3} isAnimationActive={false} />
          <Area dataKey="red" type="monotone" fill="#ff0000" fillOpacity={0.33} stroke="#000" strokeWidth={1.3} isAnimationActive={false} />
        </ComposedChart>
      </Box>

      {/* ---------- H ---------- */}
      <Box left={470} top={485}>
        <HPanel all={MAT_ALL} allLo={MAT_ALL_LO} allHi={MAT_ALL_HI} non={MAT_NONCG} nonLo={MAT_NONCG_LO} nonHi={MAT_NONCG_HI} legend />
      </Box>
      <Box left={470} top={729}>
        <HPanel all={PAT_ALL} allLo={PAT_ALL_LO} allHi={PAT_ALL_HI} non={PAT_NONCG} nonLo={PAT_NONCG_LO} nonHi={PAT_NONCG_HI} />
      </Box>

      {/* ---------- titles, letters, annotations ---------- */}
      <T x={13} y={16} size={24} bold>A</T>
      <T x={503} y={16} size={24} bold>B</T>
      <T x={728} y={15} size={24} bold>C</T>
      <T x={13} y={211} size={24} bold>D</T>
      <T x={501} y={215} size={24} bold>E</T>
      <T x={732} y={215} size={24} bold>F</T>
      <T x={12} y={457} size={24} bold>G</T>
      <T x={502} y={457} size={24} bold>H</T>
      <T x={265} y={13} size={14.5}>Component 6</T>
      <T x={622} y={9} size={12}>Chromosome 3</T>
      <T x={845} y={9} size={12}>Chromosome 8</T>
      <T x={648} y={74} size={15}>FHIT</T>
      <T x={807} y={70} size={15}>CSMD1</T>
      <T x={877} y={31} size={12.5} anchor="start" color="#333">maternal regions</T>
      <T x={877} y={45} size={12.5} anchor="start" color="#ff0000"><i>de novo</i> clusters</T>
      <T x={618} y={229} size={12}>FHIT</T>
      <T x={840} y={229} size={12}>CSMD1</T>
      <T x={762} y={476} size={19}>Maternal mutations</T>
      <T x={762} y={719} size={19}>Paternal mutations</T>
    </div>
  );
}
